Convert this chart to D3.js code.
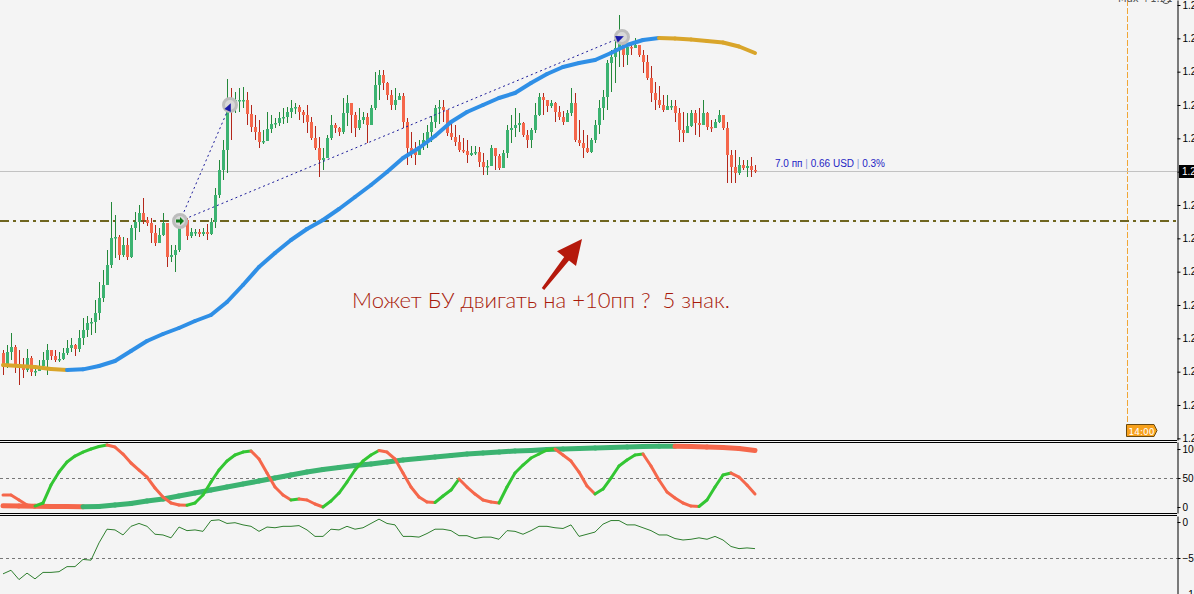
<!DOCTYPE html>
<html>
<head>
<meta charset="utf-8">
<script src="https://cdn.jsdelivr.net/npm/d3@7/dist/d3.min.js"></script>
<style>
  body { margin: 0; background: #f4f4f4; overflow: hidden; }
  svg { display: block; font-family: "DejaVu Sans", sans-serif; }
</style>
</head>
<body>
<script>
// Trading terminal screenshot: candles + MA, oscillator window, lower %R-like window

// ----- Data -----

// candles, one per bar; open of each bar = previous close
var firstOpen = 1.25312;
var closes = [
  1.25228, 1.25318, 1.25348, 1.25240, 1.25222, 1.25210, 1.25282, 1.25198, 1.25204, 1.25234,
  1.25270, 1.25330, 1.25294, 1.25270, 1.25276, 1.25312, 1.25342, 1.25360, 1.25336, 1.25402,
  1.25450, 1.25492, 1.25498, 1.25552, 1.25642, 1.25720, 1.25840, 1.26002, 1.26008, 1.25900,
  1.25960, 1.25888, 1.26062, 1.26098, 1.26152, 1.26110, 1.26092, 1.26032, 1.25972, 1.26020,
  1.26092, 1.25888, 1.25900, 1.25930, 1.26080, 1.26110, 1.26014, 1.26038, 1.26038, 1.26026,
  1.26038, 1.26026, 1.26098, 1.26260, 1.26410, 1.26530, 1.26812, 1.26788, 1.26830, 1.26830,
  1.26830, 1.26746, 1.26668, 1.26638, 1.26578, 1.26584, 1.26656, 1.26686, 1.26692, 1.26722,
  1.26728, 1.26758, 1.26782, 1.26788, 1.26758, 1.26740, 1.26698, 1.26602, 1.26542, 1.26470,
  1.26482, 1.26602, 1.26680, 1.26662, 1.26638, 1.26752, 1.26812, 1.26740, 1.26662, 1.26710,
  1.26728, 1.26680, 1.26782, 1.26920, 1.26980, 1.26932, 1.26860, 1.26800, 1.26830, 1.26854,
  1.26698, 1.26542, 1.26518, 1.26500, 1.26554, 1.26590, 1.26638, 1.26698, 1.26782, 1.26788,
  1.26770, 1.26632, 1.26608, 1.26578, 1.26530, 1.26524, 1.26500, 1.26512, 1.26518, 1.26458,
  1.26428, 1.26434, 1.26542, 1.26494, 1.26422, 1.26512, 1.26650, 1.26662, 1.26680, 1.26692,
  1.26620, 1.26590, 1.26650, 1.26740, 1.26848, 1.26830, 1.26794, 1.26812, 1.26758, 1.26728,
  1.26698, 1.26752, 1.26812, 1.26590, 1.26572, 1.26542, 1.26518, 1.26590, 1.26680, 1.26782,
  1.26848, 1.27052, 1.27088, 1.27142, 1.27172, 1.27100, 1.27148, 1.27142, 1.27160, 1.27100,
  1.27058, 1.26962, 1.26872, 1.26830, 1.26800, 1.26770, 1.26794, 1.26794, 1.26752, 1.26650,
  1.26632, 1.26674, 1.26752, 1.26692, 1.26680, 1.26752, 1.26668, 1.26662, 1.26698, 1.26740,
  1.26662, 1.26500, 1.26428, 1.26392, 1.26440, 1.26422, 1.26434, 1.26410, 1.26404
];
var highs = [
  1.25330, 1.25360, 1.25432, 1.25360, 1.25330, 1.25282, 1.25336, 1.25294, 1.25234, 1.25270,
  1.25318, 1.25366, 1.25330, 1.25330, 1.25318, 1.25342, 1.25390, 1.25402, 1.25366, 1.25450,
  1.25522, 1.25534, 1.25522, 1.25630, 1.25738, 1.25810, 1.25930, 1.26218, 1.26140, 1.26020,
  1.26008, 1.26002, 1.26080, 1.26158, 1.26200, 1.26242, 1.26128, 1.26122, 1.26080, 1.26062,
  1.26152, 1.25990, 1.25960, 1.25960, 1.26110, 1.26140, 1.26122, 1.26062, 1.26056, 1.26056,
  1.26062, 1.26086, 1.26122, 1.26302, 1.26470, 1.26590, 1.26956, 1.26902, 1.26878, 1.26902,
  1.26908, 1.26878, 1.26800, 1.26740, 1.26710, 1.26650, 1.26758, 1.26740, 1.26722, 1.26758,
  1.26782, 1.26788, 1.26830, 1.26812, 1.26800, 1.26770, 1.26800, 1.26728, 1.26674, 1.26608,
  1.26542, 1.26620, 1.26740, 1.26692, 1.26668, 1.26842, 1.26860, 1.26794, 1.26758, 1.26782,
  1.26758, 1.26752, 1.26800, 1.26998, 1.27010, 1.27010, 1.26938, 1.26890, 1.26902, 1.26872,
  1.26872, 1.26722, 1.26638, 1.26578, 1.26590, 1.26632, 1.26680, 1.26734, 1.26800, 1.26830,
  1.26830, 1.26758, 1.26710, 1.26680, 1.26620, 1.26602, 1.26590, 1.26554, 1.26554, 1.26548,
  1.26512, 1.26470, 1.26560, 1.26542, 1.26506, 1.26530, 1.26680, 1.26740, 1.26782, 1.26752,
  1.26698, 1.26650, 1.26662, 1.26812, 1.26872, 1.26872, 1.26830, 1.26830, 1.26818, 1.26794,
  1.26764, 1.26770, 1.26902, 1.26872, 1.26710, 1.26650, 1.26620, 1.26602, 1.26710, 1.26830,
  1.26890, 1.27070, 1.27130, 1.27220, 1.27340, 1.27172, 1.27166, 1.27160, 1.27202, 1.27160,
  1.27130, 1.27100, 1.27034, 1.26938, 1.26914, 1.26860, 1.26860, 1.26830, 1.26830, 1.26782,
  1.26758, 1.26752, 1.26770, 1.26770, 1.26782, 1.26830, 1.26758, 1.26710, 1.26716, 1.26770,
  1.26740, 1.26698, 1.26530, 1.26530, 1.26488, 1.26470, 1.26470, 1.26488, 1.26440
];
var lows = [
  1.25180, 1.25222, 1.25270, 1.25192, 1.25120, 1.25162, 1.25198, 1.25174, 1.25174, 1.25210,
  1.25222, 1.25180, 1.25270, 1.25258, 1.25258, 1.25270, 1.25300, 1.25318, 1.25294, 1.25318,
  1.25360, 1.25408, 1.25420, 1.25432, 1.25510, 1.25618, 1.25720, 1.25822, 1.25882, 1.25870,
  1.25888, 1.25870, 1.25882, 1.25990, 1.26038, 1.26086, 1.26074, 1.25972, 1.25954, 1.25990,
  1.26014, 1.25828, 1.25858, 1.25798, 1.25918, 1.26062, 1.25990, 1.26002, 1.26014, 1.26008,
  1.26014, 1.25990, 1.26020, 1.26062, 1.26242, 1.26350, 1.26392, 1.26590, 1.26752, 1.26758,
  1.26782, 1.26680, 1.26638, 1.26590, 1.26542, 1.26566, 1.26602, 1.26632, 1.26662, 1.26674,
  1.26686, 1.26692, 1.26722, 1.26746, 1.26710, 1.26692, 1.26632, 1.26590, 1.26530, 1.26368,
  1.26410, 1.26488, 1.26590, 1.26632, 1.26614, 1.26626, 1.26674, 1.26632, 1.26608, 1.26650,
  1.26686, 1.26572, 1.26680, 1.26770, 1.26830, 1.26890, 1.26830, 1.26770, 1.26770, 1.26830,
  1.26662, 1.26440, 1.26482, 1.26440, 1.26518, 1.26530, 1.26542, 1.26578, 1.26662, 1.26686,
  1.26698, 1.26614, 1.26590, 1.26554, 1.26518, 1.26512, 1.26452, 1.26494, 1.26500, 1.26428,
  1.26380, 1.26380, 1.26440, 1.26410, 1.26410, 1.26422, 1.26482, 1.26572, 1.26608, 1.26638,
  1.26608, 1.26542, 1.26542, 1.26632, 1.26734, 1.26740, 1.26758, 1.26782, 1.26698, 1.26710,
  1.26680, 1.26710, 1.26734, 1.26578, 1.26554, 1.26482, 1.26512, 1.26512, 1.26572, 1.26626,
  1.26710, 1.26770, 1.26878, 1.26932, 1.27028, 1.27028, 1.27040, 1.27100, 1.27142, 1.27088,
  1.26992, 1.26950, 1.26818, 1.26770, 1.26782, 1.26758, 1.26770, 1.26770, 1.26698, 1.26578,
  1.26578, 1.26632, 1.26668, 1.26620, 1.26608, 1.26698, 1.26650, 1.26638, 1.26662, 1.26692,
  1.26650, 1.26332, 1.26332, 1.26332, 1.26380, 1.26410, 1.26368, 1.26368, 1.26392
];

// moving average, one value every 4th bar
var maStep = 4;
var maValues = [
  1.25240, 1.25234, 1.25228, 1.25216, 1.25210, 1.25214, 1.25234, 1.25264, 1.25324, 1.25384,
  1.25426, 1.25462, 1.25504, 1.25540, 1.25618, 1.25720, 1.25828, 1.25912, 1.25990, 1.26056,
  1.26110, 1.26176, 1.26248, 1.26320, 1.26398, 1.26482, 1.26542, 1.26614, 1.26698, 1.26758,
  1.26800, 1.26842, 1.26872, 1.26932, 1.26986, 1.27028, 1.27052, 1.27070, 1.27112, 1.27160,
  1.27190, 1.27202, 1.27199, 1.27193, 1.27184, 1.27175, 1.27151, 1.27112
];

// oscillator window: fast line every 2nd bar, slow line every 4th bar
var fastStep = 2;
var fastValues = [
  20.7, 20.7, 12.1, 3.4, 1.7, 6.9, 37.9, 60.3, 77.6, 87.9,
  94.8, 100.0, 104.3, 106.9, 103.4, 91.4, 75.9, 63.8, 51.7, 32.8,
  17.2, 6.9, 3.4, 3.0, 6.9, 20.7, 43.1, 63.8, 79.3, 89.7,
  94.8, 96.6, 82.8, 58.6, 34.5, 20.7, 12.1, 13.8, 12.1, 5.2,
  0.0, 10.3, 24.1, 43.1, 63.8, 79.3, 89.7, 97.4, 94.8, 82.8,
  58.6, 34.5, 17.2, 8.6, 7.8, 19.0, 29.3, 48.3, 34.5, 22.4,
  12.1, 8.6, 6.9, 34.5, 58.6, 72.4, 84.5, 91.4, 98.3, 100.0,
  89.7, 79.3, 60.3, 36.2, 22.4, 31.0, 50.0, 70.7, 81.0, 89.7,
  91.4, 70.7, 46.6, 25.9, 15.5, 6.9, 1.7, 0.9, 12.1, 34.5,
  55.2, 58.6, 51.7, 37.9, 22.4
];
var slowStep = 4;
var slowValues = [
  2.0, 1.7, 1.4, 1.0, 0.7, 0.5, 0.9, 3.4, 6.0, 10.3,
  13.8, 19.0, 24.1, 29.3, 34.5, 39.7, 44.8, 50.0, 55.2, 60.3,
  64.7, 68.1, 71.6, 74.1, 77.6, 81.0, 83.6, 86.2, 88.8, 91.4,
  93.1, 94.8, 96.6, 97.4, 99.1, 100.0, 100.9, 101.7, 102.6, 103.4,
  104.3, 104.7, 104.8, 104.3, 103.4, 102.6, 100.9, 97.4
];

// lower window, every 2nd bar
var wprStep = 2;
var wprValues = [
  -72, -67, -80, -71, -79, -70, -70, -69, -62, -62,
  -52, -53, -29, -10, -11, -18, -6, -2, -6, -17,
  -18, -22, -7, -12, -11, -13, 2, 3, -2, -1,
  -4, -6, -13, -7, -8, -6, -6, -5, -11, -20,
  -20, -10, -11, -6, -10, -8, -2, 4, -2, -4,
  -20, -20, -21, -16, -10, -10, -12, -19, -19, -23,
  -21, -21, -24, -12, -13, -17, -12, -6, -6, -8,
  -9, -4, -20, -17, -14, -3, 2, 2, -4, -4,
  -8, -12, -18, -18, -23, -25, -24, -22, -24, -20,
  -25, -34, -37, -36, -37
];

// axis ticks
var priceTicks = [1.2740, 1.2720, 1.2700, 1.2680, 1.2660, 1.2640, 1.2620,
                  1.2600, 1.2580, 1.2560, 1.2540, 1.2520, 1.2500, 1.2480];
var oscTicks = [100, 50, 0];
var wprTicks = [0, -50, -100];

// objects on the chart
var stopPrice = 1.26104;
var markerBars = [44.25, 56.75, 154.75];
var markerPrices = [1.26104, 1.26800, 1.27208];
var futureBar = 281.1;
var timeLabel = "14:00";
var infoParts = ["7.0 пп", "0.66 USD", "0.3%"];
var noteText = "Может БУ двигать на +10пп ?  5 знак.";
var noteBar = 87.25, notePrice = 1.25582;
var arrowBar = 144.75, arrowPrice = 1.25996;
var topText = "Max +1.51";


// ----- Page dimensions -----
var width = 1194, height = 594, plotRight = 1177;

var x = d3.scaleLinear().domain([0, 293.5]).range([3, 1177]);
var y = d3.scaleLinear().domain([1.2743, 1.2479]).range([0, 440]);
var yOsc = d3.scaleLinear().domain([112.1, -10.3]).range([442, 513]);
var yWpr = d3.scaleLinear().domain([8.33, -100]).range([516, 594]);

var green = "#3cb371", red = "#f5674b";

var svg = d3.select("body")
  .append("svg")
  .attr("width", width)
  .attr("height", height);

svg.append("rect")
  .attr("width", width)
  .attr("height", height)
  .attr("fill", "#f4f4f4");

var defs = svg.append("defs");
defs.append("clipPath").attr("id", "clipMain")
  .append("rect").attr("x", 0).attr("y", 0).attr("width", plotRight).attr("height", 440);
defs.append("clipPath").attr("id", "clipOsc")
  .append("rect").attr("x", 0).attr("y", 443).attr("width", plotRight).attr("height", 70);
defs.append("clipPath").attr("id", "clipWpr")
  .append("rect").attr("x", 0).attr("y", 516).attr("width", plotRight).attr("height", 78);


// ----- Main window -----

var chart = svg.append("g").attr("clip-path", "url(#clipMain)");

// vertical future-time line
chart.append("line")
  .attr("x1", Math.round(x(futureBar)) + 0.5)
  .attr("x2", Math.round(x(futureBar)) + 0.5)
  .attr("y1", 0)
  .attr("y2", 425)
  .attr("stroke", "#f0a636")
  .attr("stroke-dasharray", "6,2");

// current price line
var lastClose = closes[closes.length - 1];
chart.append("line")
  .attr("x1", 0)
  .attr("x2", plotRight)
  .attr("y1", Math.round(y(lastClose)) + 0.5)
  .attr("y2", Math.round(y(lastClose)) + 0.5)
  .attr("stroke", "#c2c2c2");

// breakeven dash-dot line
chart.append("line")
  .attr("x1", 0)
  .attr("x2", plotRight)
  .attr("y1", y(stopPrice))
  .attr("y2", y(stopPrice))
  .attr("stroke", "#6f6520")
  .attr("stroke-width", 2)
  .attr("stroke-dasharray", "9,4,3,4");

// candles
var bars = closes.map(function(c, i) {
  var o = i === 0 ? firstOpen : closes[i - 1];
  return {
    i: i,
    open: o,
    close: c,
    high: Math.max(highs[i], o, c),
    low: Math.min(lows[i], o, c)
  };
});

var candle = chart.selectAll(".candle")
  .data(bars)
  .enter().append("g")
  .attr("class", "candle");

candle.append("line")
  .attr("x1", function(d) { return Math.round(x(d.i)) + 0.5; })
  .attr("x2", function(d) { return Math.round(x(d.i)) + 0.5; })
  .attr("y1", function(d) { return y(d.high); })
  .attr("y2", function(d) { return y(d.low); })
  .attr("stroke", function(d) { return d.close >= d.open ? "#23883a" : "#b3261a"; });

candle.append("rect")
  .attr("x", function(d) { return Math.round(x(d.i)) - 1; })
  .attr("width", 3)
  .attr("y", function(d) { return y(Math.max(d.open, d.close)); })
  .attr("height", function(d) { return Math.max(1.5, Math.abs(y(d.open) - y(d.close))); })
  .attr("fill", function(d) { return d.close >= d.open ? green : red; });

// moving average, blue while rising, gold while falling
function segments(values, step) {
  var out = [];
  for (var k = 1; k < values.length; k++) {
    out.push({ a: (k - 1) * step, b: k * step, va: values[k - 1], vb: values[k] });
  }
  return out;
}

chart.selectAll(".ma")
  .data(segments(maValues, maStep))
  .enter().append("line")
  .attr("class", "ma")
  .attr("x1", function(d) { return x(d.a); })
  .attr("x2", function(d) { return x(d.b); })
  .attr("y1", function(d) { return y(d.va); })
  .attr("y2", function(d) { return y(d.vb); })
  .attr("stroke", function(d) { return d.vb > d.va ? "#2f8fe6" : "#d9a52a"; })
  .attr("stroke-width", 4)
  .attr("stroke-linecap", "round");

// trade markers and dotted links
var marks = markerBars.map(function(b, i) { return { bar: b, price: markerPrices[i] }; });

[1, 2].forEach(function(j) {
  chart.append("line")
    .attr("x1", x(marks[0].bar))
    .attr("y1", y(marks[0].price))
    .attr("x2", x(marks[j].bar))
    .attr("y2", y(marks[j].price))
    .attr("stroke", "#1a1a9a")
    .attr("stroke-dasharray", "2,3");
});

chart.selectAll(".marker")
  .data(marks)
  .enter().append("circle")
  .attr("class", "marker")
  .attr("cx", function(d) { return x(d.bar); })
  .attr("cy", function(d) { return y(d.price); })
  .attr("r", 6.5)
  .attr("fill", "#d8d8d8")
  .attr("stroke", "#bdbdbd")
  .attr("stroke-width", 3);

// small arrowheads inside the markers, pointing along the links
[1, 2].forEach(function(j) {
  var x0 = x(marks[0].bar), y0 = y(marks[0].price);
  var x1 = x(marks[j].bar), y1 = y(marks[j].price);
  var a = Math.atan2(y1 - y0, x1 - x0) * 180 / Math.PI;
  chart.append("path")
    .attr("d", "M2,0 L-6,-3.5 L-6,3.5 Z")
    .attr("fill", "#1a1aa8")
    .attr("transform", "translate(" + x1 + "," + y1 + ") rotate(" + a + ")");
});
chart.append("path")
  .attr("d", "M4,0 L0,-4 L0,-1.5 L-4,-1.5 L-4,1.5 L0,1.5 L0,4 Z")
  .attr("fill", "#0f7a1a")
  .attr("transform", "translate(" + x(marks[0].bar) + "," + y(marks[0].price) + ")");

// info text next to the last bar
var info = chart.append("text")
  .attr("x", x(closes.length - 1) + 20)
  .attr("y", y(lastClose) - 4)
  .style("font-family", "'Liberation Sans', sans-serif")
  .style("font-size", "10px")
  .attr("fill", "#2424c4");
infoParts.forEach(function(p, i) {
  if (i > 0) info.append("tspan").attr("fill", "#8c96d8").text(" | ");
  info.append("tspan").text(p);
});

// red arrow and the note
var tipX = x(arrowBar), tipY = y(arrowPrice);
chart.append("path")
  .attr("d", "M0,0 L-6,27 L-13,21.5 L-37.8,50.9 L-40.2,49.1 L-17.8,17.9 L-25,12.3 Z")
  .attr("fill", "#b5190c")
  .attr("transform", "translate(" + tipX + "," + tipY + ")");

var note = chart.append("text")
  .attr("x", x(noteBar))
  .attr("y", y(notePrice))
  .style("font-family", "Lato, 'Liberation Sans', sans-serif")
  .style("font-weight", 300)
  .style("font-size", "20px")
  .style("white-space", "pre")
  .attr("fill", "#a81a0a")
  .text(noteText);
var noteLen = note.node().getComputedTextLength();
note.style("font-size", (20 * 378 / noteLen).toFixed(2) + "px");

// time label on the future line
var tx = Math.round(x(futureBar));
svg.append("path")
  .attr("d", "M" + (tx - 0.5) + ",424.5 L" + (tx + 27) + ",424.5 L" + (tx + 30) + ",430.5 L" + (tx + 27) + ",436.5 L" + (tx - 0.5) + ",436.5 Z")
  .attr("fill", "#f7a11c")
  .attr("stroke", "#6b4a10")
  .attr("stroke-width", 1);
svg.append("text")
  .attr("x", tx + 1.5)
  .attr("y", 434.5)
  .style("font-size", "9px")
  .attr("fill", "#ffffff")
  .text(timeLabel);

// top-right text, cut by the window edge as in the terminal
svg.append("text")
  .attr("x", 1118)
  .attr("y", 2)
  .style("font-size", "10px")
  .attr("fill", "#555")
  .text(topText);
svg.append("circle")
  .attr("cx", 1166)
  .attr("cy", -1)
  .attr("r", 4.5)
  .attr("fill", "none")
  .attr("stroke", "#555");


// ----- Oscillator window -----

var oscG = svg.append("g").attr("clip-path", "url(#clipOsc)");

oscG.append("line")
  .attr("x1", 0).attr("x2", plotRight)
  .attr("y1", Math.round(yOsc(50)) + 0.5).attr("y2", Math.round(yOsc(50)) + 0.5)
  .attr("stroke", "#777").attr("stroke-dasharray", "3,3");

oscG.selectAll(".slow")
  .data(segments(slowValues, slowStep))
  .enter().append("line")
  .attr("class", "slow")
  .attr("x1", function(d) { return x(d.a); })
  .attr("x2", function(d) { return x(d.b); })
  .attr("y1", function(d) { return yOsc(d.va); })
  .attr("y2", function(d) { return yOsc(d.vb); })
  .attr("stroke", function(d) { return d.vb > d.va ? "#3cb371" : "#f5674b"; })
  .attr("stroke-width", 5)
  .attr("stroke-linecap", "round");

oscG.selectAll(".fast")
  .data(segments(fastValues, fastStep))
  .enter().append("line")
  .attr("class", "fast")
  .attr("x1", function(d) { return x(d.a); })
  .attr("x2", function(d) { return x(d.b); })
  .attr("y1", function(d) { return yOsc(d.va); })
  .attr("y2", function(d) { return yOsc(d.vb); })
  .attr("stroke", function(d) { return d.vb > d.va ? "#33c633" : "#f5674b"; })
  .attr("stroke-width", 3)
  .attr("stroke-linecap", "round");


// ----- Lower window -----

var wprG = svg.append("g").attr("clip-path", "url(#clipWpr)");

wprG.append("line")
  .attr("x1", 0).attr("x2", plotRight)
  .attr("y1", Math.round(yWpr(-50)) + 0.5).attr("y2", Math.round(yWpr(-50)) + 0.5)
  .attr("stroke", "#777").attr("stroke-dasharray", "3,3");

var wprLine = d3.line()
  .x(function(d, k) { return x(k * wprStep); })
  .y(function(d) { return yWpr(d); });

wprG.append("path")
  .attr("d", wprLine(wprValues))
  .attr("fill", "none")
  .attr("stroke", "#2f7f2f")
  .attr("stroke-width", 1);


// ----- Window borders and axes -----

[440.5, 442.5, 513.5, 515.5].forEach(function(yy) {
  svg.append("line")
    .attr("x1", 0).attr("x2", plotRight)
    .attr("y1", yy).attr("y2", yy)
    .attr("stroke", "#000");
});

function styleAxis(g) {
  g.select(".domain").attr("stroke", "#000");
  g.selectAll(".tick line").attr("stroke", "#000");
  g.selectAll(".tick text")
    .attr("fill", "#000")
    .style("font-family", "'Liberation Sans', sans-serif")
    .style("font-size", "10px");
}

svg.append("g")
  .attr("transform", "translate(" + (plotRight + 0.5) + ",0)")
  .call(d3.axisRight(y).tickValues(priceTicks).tickFormat(d3.format(".4f")).tickSize(3).tickPadding(2).tickSizeOuter(0))
  .call(styleAxis);

svg.append("g")
  .attr("transform", "translate(" + (plotRight + 0.5) + ",0)")
  .call(d3.axisRight(yOsc).tickValues(oscTicks).tickSize(3).tickPadding(2).tickSizeOuter(0))
  .call(styleAxis);

svg.append("g")
  .attr("transform", "translate(" + (plotRight + 0.5) + ",0)")
  .call(d3.axisRight(yWpr).tickValues(wprTicks).tickSize(3).tickPadding(2).tickSizeOuter(0))
  .call(styleAxis);

// black price box for the last close
var py = Math.round(y(lastClose));
svg.append("rect")
  .attr("x", plotRight + 2)
  .attr("y", py - 6)
  .attr("width", 20)
  .attr("height", 13)
  .attr("fill", "#000");
svg.append("text")
  .attr("x", plotRight + 5)
  .attr("y", py + 4)
  .style("font-family", "'Liberation Sans', sans-serif")
  .style("font-size", "10px")
  .attr("fill", "#fff")
  .text(d3.format(".4f")(lastClose));
</script>
</body>
</html>
